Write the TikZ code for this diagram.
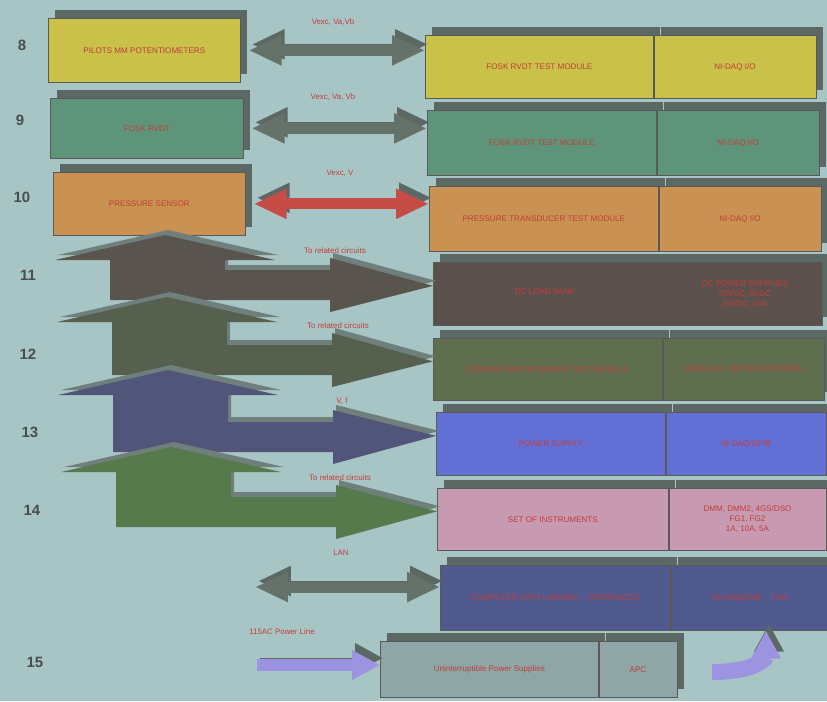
\documentclass[tikz,border=0pt]{standalone}
\usepackage{fontspec}
\setmainfont{Liberation Sans}
\usetikzlibrary{shadows,arrows.meta,positioning}

\definecolor{bgcol}{RGB}{168,197,197}
\definecolor{shadowcol}{RGB}{92,104,100}
\definecolor{txtred}{RGB}{194,62,58}
\definecolor{numcol}{RGB}{70,78,78}
\definecolor{yellowbox}{RGB}{201,193,74}
\definecolor{greenbox}{RGB}{94,148,121}
\definecolor{orangebox}{RGB}{201,146,82}
\definecolor{brownbox}{RGB}{92,80,76}
\definecolor{olivebox}{RGB}{94,110,78}
\definecolor{bluebox}{RGB}{98,112,214}
\definecolor{pinkbox}{RGB}{200,154,178}
\definecolor{slatebox}{RGB}{80,90,142}
\definecolor{upsbox}{RGB}{142,166,166}
\definecolor{arrowgrey}{RGB}{100,114,106}
\definecolor{arrowred}{RGB}{198,76,70}
\definecolor{arrowpurple}{RGB}{156,148,224}
\definecolor{bentbrown}{RGB}{90,84,79}
\definecolor{bentolive}{RGB}{86,96,79}
\definecolor{bentblue}{RGB}{81,85,121}
\definecolor{bentgreen}{RGB}{87,122,76}

\begin{document}
\begin{tikzpicture}[x=0.02cm, y=-0.02cm,
	box/.style={draw=black!65, anchor=north west, inner sep=1pt, align=center,
		text=txtred, font=\fontsize{4.6}{5.6}\selectfont,
		drop shadow={shadow xshift=0.14cm, shadow yshift=0.16cm, fill=shadowcol, opacity=1}},
	sig/.style={text=txtred, font=\fontsize{4.5}{5}\selectfont},
	rownum/.style={text=numcol, font=\bfseries\fontsize{8.5}{10}\selectfont},
	dblarrow/.style={line width=0.22cm, {Triangle[length=0.66cm,width=0.56cm]}-{Triangle[length=0.66cm,width=0.56cm]},
		preaction={draw=shadowcol, transform canvas={xshift=0.06cm, yshift=0.12cm}}},
	powarrow/.style={line width=0.24cm, draw=arrowpurple, -{Triangle[length=0.56cm,width=0.56cm]},
		preaction={draw=shadowcol, transform canvas={xshift=0.06cm, yshift=0.14cm}}}]

	\path[use as bounding box, fill=bgcol] (0,0) rectangle (827,701);

	% row numbers
	\node (n8)[rownum] at (22,45) {8};
	\node (n9)[rownum] at (20,120) {9};
	\node (n10)[rownum] at (22,197) {10};
	\node (n11)[rownum] at (28,275) {11};
	\node (n12)[rownum] at (28,354) {12};
	\node (n13)[rownum] at (30,432) {13};
	\node (n14)[rownum] at (32,510) {14};
	\node (n15)[rownum] at (35,662) {15};

	% sensors
	\node (pilots)[box, fill=yellowbox, minimum width=3.84cm, minimum height=1.28cm] at (48,18) {PILOTS MM POTENTIOMETERS};
	\node (rvdt)[box, fill=greenbox, minimum width=3.86cm, minimum height=1.2cm] at (50,98) {FOSK RVDT};
	\node (press)[box, fill=orangebox, minimum width=3.84cm, minimum height=1.26cm] at (53,172) {PRESSURE SENSOR};

	% test modules
	\node (foskmod)[box, fill=yellowbox, minimum width=4.56cm, minimum height=1.26cm] at (425,35) {FOSK RVDT TEST MODULE};
	\node (daqa)[box, fill=yellowbox, minimum width=3.24cm, minimum height=1.26cm] at (foskmod.north east) {NI-DAQ I/O};
	\node (rvdtmod)[box, fill=greenbox, minimum width=4.58cm, minimum height=1.3cm] at (427,110) {FOSK RVDT TEST MODULE};
	\node (daqb)[box, fill=greenbox, minimum width=3.24cm, minimum height=1.3cm] at (rvdtmod.north east) {NI-DAQ I/O};
	\node (pressmod)[box, fill=orangebox, minimum width=4.58cm, minimum height=1.3cm] at (429,186) {PRESSURE TRANSDUCER TEST MODULE};
	\node (daqc)[box, fill=orangebox, minimum width=3.24cm, minimum height=1.3cm] at (pressmod.north east) {NI-DAQ I/O};

	\node (load)[box, fill=brownbox, minimum width=7.78cm, minimum height=1.26cm] at (433,262) {};
	\node (loada)[sig, font=\fontsize{4.6}{5.6}\selectfont] at (545,292) {DC LOAD BANK};
	\node (loadb)[sig, font=\fontsize{4.6}{5.6}\selectfont, align=center] at (745,294) {DC POWER SUPPLIES\\28VDC, 5VDC\\15VDC, 10A};
	\node (motor)[box, fill=olivebox, minimum width=4.58cm, minimum height=1.24cm] at (433,338) {STEPPER MOTOR DRIVER TEST MODULE};
	\node (motord)[box, fill=olivebox, minimum width=3.22cm, minimum height=1.24cm] at (motor.north east) {NI-DAQ I/O, MOTION CONTROL};
	\node (psu)[box, fill=bluebox, minimum width=4.58cm, minimum height=1.26cm] at (436,412) {POWER SUPPLY};
	\node (psud)[box, fill=bluebox, minimum width=3.2cm, minimum height=1.26cm] at (psu.north east) {NI-DAQ/GPIB};
	\node (instr)[box, fill=pinkbox, minimum width=4.62cm, minimum height=1.24cm] at (437,488) {SET OF INSTRUMENTS};
	\node (instrd)[box, fill=pinkbox, minimum width=3.14cm, minimum height=1.24cm] at (instr.north east) {DMM, DMM2, 4GS/DSO\\FG1, FG2\\1A, 10A, 5A};
	\node (pc)[box, fill=slatebox, minimum width=4.6cm, minimum height=1.3cm] at (440,565) {COMPUTER WITH LABVIEW \quad INTERFACES};
	\node (pcr)[box, fill=slatebox, minimum width=3.14cm, minimum height=1.3cm] at (pc.north east) {NI-DAQ/GPIB \quad LAN};
	\node (ups)[box, fill=upsbox, minimum width=4.36cm, minimum height=1.12cm] at (380,641) {Uninterruptible Power Supplies};
	\node (apc)[box, fill=upsbox, minimum width=1.56cm, minimum height=1.12cm] at (ups.north east) {APC};

	% signal arrows
	\draw [dblarrow, draw=arrowgrey]([xshift=0.16cm]pilots.east)--(pilots.east -| foskmod.west);
	\draw [dblarrow, draw=arrowgrey]([xshift=0.16cm]rvdt.east)--(rvdt.east -| rvdtmod.west);
	\draw [dblarrow, draw=arrowred]([xshift=0.16cm]press.east)--(press.east -| pressmod.west);
	\node (s8)[sig] at (333,22) {Vexc, Va,Vb};
	\node (s9)[sig] at (333,97) {Vexc, Va, Vb};
	\node (s10)[sig] at (340,173) {Vexc, V};

	% supply arrows
	\foreach \a/\b/\xs/\col/\tgt in {235/300/0/bentbrown/load, 297/375/2/bentolive/motor, 370/452/3/bentblue/psu, 447/527/6/bentgreen/instr}{
		\fill [\col, preaction={fill=shadowcol!75!bgcol, transform canvas={xshift=0.06cm, yshift=0.1cm}}]
			(110+\xs,\b) -- (110+\xs,\a+25) -- (55+\xs,\a+25) -- (165+\xs,\a) -- (275+\xs,\a+25)
			-- (225+\xs,\a+25) -- (225+\xs,\b-30) -- (330+\xs,\b-30) -- (330+\xs,\b-42)
			-- ([yshift=0.16cm]\tgt.west) -- (330+\xs,\b+12) -- (330+\xs,\b) -- cycle;
	}
	\node (s11)[sig] at (335,251) {To related circuits};
	\node (s12)[sig] at (338,326) {To related circuits};
	\node (s13)[sig] at (342,401) {V, f};
	\node (s14)[sig] at (340,478) {To related circuits};

	% LAN and power line
	\coordinate (lanend) at (255,587);
	\draw [dblarrow, draw=arrowgrey](lanend)--(lanend -| pc.west);
	\node (slan)[sig] at (341,553) {LAN};
	\coordinate (acin) at (257,665);
	\draw [powarrow](acin)--(acin -| ups.west);
	\node (sac)[sig] at (282,632) {115AC Power Line};
	\coordinate (apcout) at (712,672);
	\draw [powarrow, line width=0.32cm](apcout) .. controls +(42,0) and +(0,28) .. ([xshift=0.33cm]pcr.south);
\end{tikzpicture}
\end{document}
